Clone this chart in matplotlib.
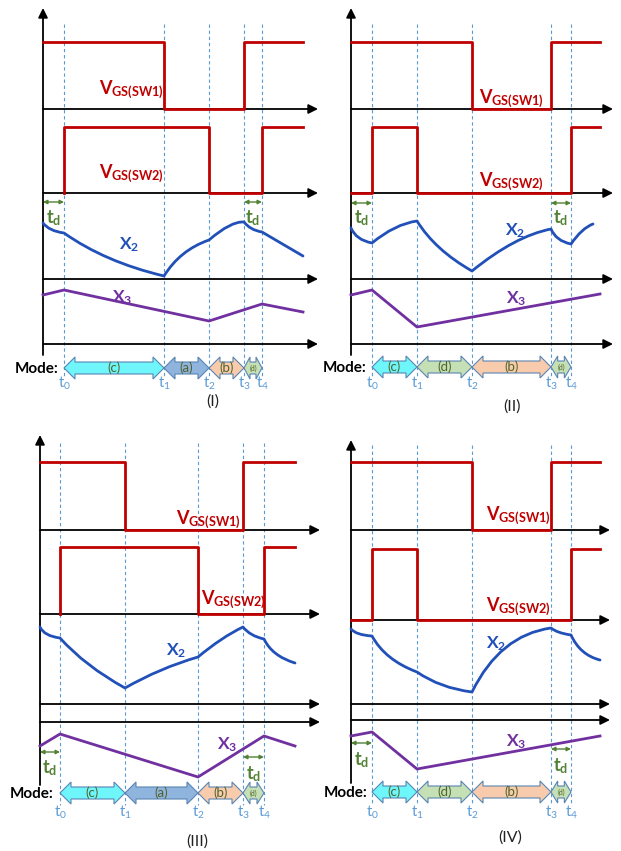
import matplotlib
matplotlib.use("Agg")
import matplotlib.pyplot as plt
from matplotlib.patches import Polygon, PathPatch
from matplotlib.path import Path

plt.rcParams['font.family'] = ['Lato', 'DejaVu Sans']
plt.rcParams['mathtext.fontset'] = 'custom'
plt.rcParams['mathtext.rm'] = 'Lato'
plt.rcParams['mathtext.it'] = 'Lato:italic'
plt.rcParams['mathtext.bf'] = 'Lato:bold'

RED = '#c00000'
BLUE = '#2050b8'
PURPLE = '#7030a0'
GREEN = '#548235'
LBLUE = '#5b9bd5'

# switching instants t0..t4 (pixel x) for each panel
t_I = [64, 164, 209, 244, 262]
t_II = [372, 417, 472, 551, 571]
t_III = [60, 125, 198, 243, 264]
t_IV = [372, 417, 472, 551, 571]

# gate signals
vgs1_I_x = [43, 164, 164, 244, 244, 303]
vgs1_I_y = [42, 42, 109, 109, 42, 42]
vgs2_I_x = [64, 64, 209, 209, 262, 262, 303]
vgs2_I_y = [193, 127, 127, 193, 193, 127, 127]

vgs1_II_x = [351, 472, 472, 551, 551, 600]
vgs1_II_y = [42, 42, 109, 109, 42, 42]
vgs2_II_x = [351, 372, 372, 417, 417, 571, 571, 600]
vgs2_II_y = [193, 193, 127, 127, 193, 193, 127, 127]

vgs1_III_x = [40, 125, 125, 243, 243, 295]
vgs1_III_y = [462, 462, 530, 530, 462, 462]
vgs2_III_x = [60, 60, 198, 198, 264, 264, 295]
vgs2_III_y = [614, 547, 547, 614, 614, 547, 547]

vgs1_IV_x = [351, 472, 472, 551, 551, 600]
vgs1_IV_y = [462, 462, 530, 530, 462, 462]
vgs2_IV_x = [351, 372, 372, 417, 417, 571, 571, 600]
vgs2_IV_y = [620, 620, 549, 549, 620, 620, 549, 549]

# X2 waveforms: corner points and one bend point per segment
x2_I_x = [43, 64, 164, 209, 244, 262, 303]
x2_I_y = [223, 233, 276, 240, 222, 232, 256]
x2_I_cx = [49, 105, 180, 231, 250, 279]
x2_I_cy = [231, 262, 250, 221, 230, 242]

x2_II_x = [351, 372, 417, 472, 551, 571, 593]
x2_II_y = [228, 243, 221, 271, 229, 244, 224]
x2_II_cx = [356, 395, 435, 515, 556, 582]
x2_II_cy = [240, 224, 250, 236, 241, 228]

x2_III_x = [40, 60, 125, 198, 243, 264, 295]
x2_III_y = [627, 638, 688, 657, 627, 639, 663]
x2_III_cx = [44, 85, 160, 222, 250, 272]
x2_III_cy = [636, 666, 668, 637, 636, 656]

x2_IV_x = [351, 372, 417, 472, 551, 571, 600]
x2_IV_y = [629, 636, 672, 692, 628, 635, 660]
x2_IV_cx = [356, 385, 440, 500, 557, 580]
x2_IV_cy = [635, 660, 688, 635, 633, 655]

# X3 waveforms
x3_I_x = [43, 64, 209, 262, 303]
x3_I_y = [295, 290, 321, 304, 312]
x3_II_x = [351, 372, 417, 600]
x3_II_y = [295, 290, 327, 294]
x3_III_x = [40, 60, 198, 264, 295]
x3_III_y = [746, 734, 777, 736, 746]
x3_IV_x = [351, 372, 417, 600]
x3_IV_y = [736, 732, 769, 736]

modes_I = ['(c)', '(a)', '(b)', '(d)']
modes_II = ['(c)', '(d)', '(b)', '(d)']
mode_colors = {'(a)': '#8fb4de', '(b)': '#f8cbad', '(c)': '#6ff6fb', '(d)': '#c5e0b4'}


def block_arrow(ax, x0, x1, yc, fc):
    L = min(11, (x1 - x0) / 3)
    H, h = 11, 6
    pts = [(x0, yc), (x0 + L, yc - H), (x0 + L, yc - h), (x1 - L, yc - h),
           (x1 - L, yc - H), (x1, yc), (x1 - L, yc + H), (x1 - L, yc + h),
           (x0 + L, yc + h), (x0 + L, yc + H)]
    ax.add_patch(Polygon(pts, closed=True, fc=fc, ec='#5a84b4', lw=0.8, zorder=3))


def curve(ax, xs, ys, cxs, cys, color):
    verts = [(xs[0], ys[0])]
    codes = [Path.MOVETO]
    for i in range(len(cxs)):
        verts += [(cxs[i], cys[i]), (xs[i + 1], ys[i + 1])]
        codes += [Path.CURVE3, Path.CURVE3]
    ax.add_patch(PathPatch(Path(verts, codes), fc='none', ec=color, lw=2,
                           capstyle='round', joinstyle='round', zorder=4))


def draw_panel(ax, x0, ytop, ybot, baselines, tip, t, dash_top, dash_bot,
               vgs1, vgs2, x2, x3, modes, mode_y, tlab_y, mode_x, td_pos):
    ax.annotate('', xy=(x0, ytop), xytext=(x0, ybot),
                arrowprops=dict(arrowstyle='-|>', color='black', lw=1.3,
                                mutation_scale=14, shrinkA=0, shrinkB=0))
    for yb in baselines:
        ax.annotate('', xy=(tip, yb), xytext=(x0, yb),
                    arrowprops=dict(arrowstyle='-|>', color='black', lw=1.3,
                                    mutation_scale=14, shrinkA=0, shrinkB=0))
    for tx in t:
        ax.plot([tx, tx], [dash_top, dash_bot], color=LBLUE, lw=0.8,
                ls=(0, (3, 2.5)), zorder=1)
    ax.plot(vgs1[0], vgs1[1], color=RED, lw=2, zorder=4)
    ax.plot(vgs2[0], vgs2[1], color=RED, lw=2, zorder=4)
    curve(ax, *x2, BLUE)
    ax.plot(x3[0], x3[1], color=PURPLE, lw=2, zorder=4)
    for i, m in enumerate(modes):
        block_arrow(ax, t[i], t[i + 1], mode_y, mode_colors[m])
        fs = 9.5 if i < 3 else 5
        ax.text((t[i] + t[i + 1]) / 2, mode_y, m, ha='center', va='center',
                fontsize=fs, color='#4f6228', zorder=5)
    for i, tx in enumerate(t):
        ax.text(tx, tlab_y, r'$\mathrm{t}_{%d}$' % i, ha='center', va='center',
                fontsize=10.5, color=LBLUE)
    ax.text(mode_x, mode_y + 1, 'Mode:', ha='left', va='center', fontsize=11,
            fontweight='bold', color='black')
    for (xa, xb, ya, ly) in td_pos:
        ax.annotate('', xy=(xb, ya), xytext=(xa, ya),
                    arrowprops=dict(arrowstyle='<|-|>', color=GREEN, lw=1,
                                    mutation_scale=6, shrinkA=0, shrinkB=0))
        ax.text((xa + xb) / 2, ly, r'$\mathbf{t}_{\mathbf{d}}$', ha='center',
                va='center', fontsize=13, color=GREEN)


fig = plt.figure(figsize=(6.21, 8.51), dpi=100)
ax = fig.add_axes([0, 0, 1, 1])
ax.set_xlim(0, 621)
ax.set_ylim(851, 0)
ax.axis('off')

draw_panel(ax, 43, 8, 355, [109, 193, 279, 344], 318, t_I, 24, 376,
           (vgs1_I_x, vgs1_I_y), (vgs2_I_x, vgs2_I_y),
           (x2_I_x, x2_I_y, x2_I_cx, x2_I_cy),
           (x3_I_x, x3_I_y), modes_I, 368, 383, 15,
           [(43, 64, 202, 218), (244, 262, 202, 218)])
draw_panel(ax, 351, 8, 355, [109, 193, 279, 344], 613, t_II, 24, 376,
           (vgs1_II_x, vgs1_II_y), (vgs2_II_x, vgs2_II_y),
           (x2_II_x, x2_II_y, x2_II_cx, x2_II_cy),
           (x3_II_x, x3_II_y), modes_II, 367, 383, 323,
           [(351, 372, 203, 218), (551, 571, 203, 218)])
draw_panel(ax, 40, 435, 785, [530, 614, 704, 722], 320, t_III, 443, 805,
           (vgs1_III_x, vgs1_III_y), (vgs2_III_x, vgs2_III_y),
           (x2_III_x, x2_III_y, x2_III_cx, x2_III_cy),
           (x3_III_x, x3_III_y), modes_I, 793, 812, 10,
           [(40, 60, 752, 768), (243, 264, 757, 774)])
draw_panel(ax, 351, 440, 783, [530, 620, 704, 720], 610, t_IV, 445, 805,
           (vgs1_IV_x, vgs1_IV_y), (vgs2_IV_x, vgs2_IV_y),
           (x2_IV_x, x2_IV_y, x2_IV_cx, x2_IV_cy),
           (x3_IV_x, x3_IV_y), modes_II, 792, 812, 324,
           [(351, 372, 743, 760), (551, 571, 749, 766)])

# labels
sw1 = r'$\mathbf{V}_{\mathbf{GS(SW1)}}$'
sw2 = r'$\mathbf{V}_{\mathbf{GS(SW2)}}$'
for (lx, ly, s) in [(99, 90, sw1), (99, 174, sw2), (479, 99, sw1), (479, 182, sw2),
                    (176, 520, sw1), (201, 600, sw2), (486, 516, sw1), (486, 607, sw2)]:
    ax.text(lx, ly, s, ha='left', va='center', fontsize=13, color=RED)

x2s = r'$\mathbf{X}_{\mathbf{2}}$'
x3s = r'$\mathbf{X}_{\mathbf{3}}$'
for (lx, ly) in [(119, 245), (505, 231), (166, 651), (486, 644)]:
    ax.text(lx, ly, x2s, ha='left', va='center', fontsize=12.5, color=BLUE)
for (lx, ly) in [(112, 298), (506, 299), (217, 745), (506, 742)]:
    ax.text(lx, ly, x3s, ha='left', va='center', fontsize=12.5, color=PURPLE)

for (lx, ly, s) in [(213, 402, '(I)'), (512, 407, '(II)'), (197, 842, '(III)'),
                    (510, 838, '(IV)')]:
    ax.text(lx, ly, s, ha='center', va='center', fontsize=11.5, color='#222222')

fig.savefig('out.png', dpi=100)
